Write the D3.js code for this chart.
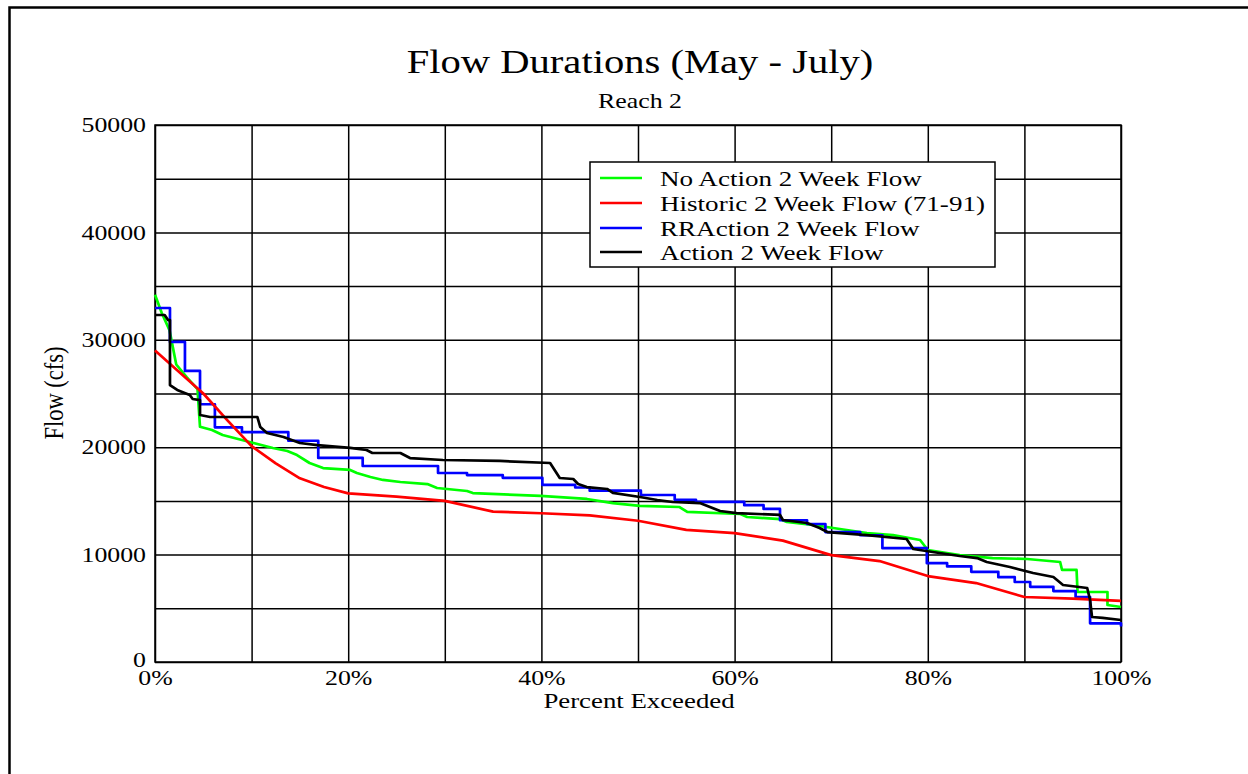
<!DOCTYPE html>
<html>
<head>
<meta charset="utf-8">
<script src="https://cdn.jsdelivr.net/npm/d3@7/dist/d3.min.js"></script>
<style>
  html, body { margin: 0; padding: 0; background: #fff; }
  svg { display: block; }
  text { font-family: "Liberation Serif", "Times New Roman", serif; fill: #000; }
</style>
</head>
<body>
<svg id="chart" width="1248" height="774"></svg>
<script>
// ---- Data (percent exceeded, flow in cfs) ----
const seriesNames = [
  "No Action 2 Week Flow",
  "Historic 2 Week Flow (71-91)",
  "RRAction 2 Week Flow",
  "Action 2 Week Flow"
];
const seriesColors = ["#00ff00", "#ff0000", "#0000ff", "#000000"];

const noActionFlow = [
  [0,34200],[0.7,32500],[1.5,30900],[2.2,27700],[3.3,26500],[4.4,25400],[4.66,21900],
  [5.9,21600],[7.0,21140],[9.8,20480],[12.2,19930],[13.7,19650],[14.7,19270],[16.0,18530],
  [17.4,18060],[20.2,17880],[20.9,17600],[22.3,17230],[23.6,16950],[25.4,16760],[28.2,16570],
  [29.2,16200],[32.3,15920],[32.9,15730],[39.9,15460],[44.7,15180],[47.4,14800],[50.2,14530],
  [54.3,14430],[55.1,13970],[60.6,13780],[61.3,13500],[64.7,13310],[65.4,13040],[68.1,12760],
  [70.2,12480],[73.7,12010],[76.4,11820],[79.2,11360],[80.0,10430],[83.3,9960],[86.7,9680],
  [90.3,9590],[93.7,9310],[93.9,8570],[95.4,8570],[95.5,6520],[98.6,6520],[98.6,5310],[100,5120]
];

const historicFlow = [
  [0,29000],[2.5,27000],[5,25000],[7.5,22500],[10,20100],[12.5,18500],[15,17100],[17.5,16300],
  [20,15700],[25,15400],[30,15000],[35,14000],[40,13850],[45,13650],[50,13150],[55,12300],
  [60,12000],[65,11300],[70,9950],[75,9400],[80,8000],[85,7350],[90,6050],[95,5900],[100,5700]
];

const rrActionFlow = [
  [0,32960],[1.55,29800],[3.1,27100],[4.66,24000],[6.2,21850],[9.0,21400],[13.8,20600],
  [16.9,19000],[21.5,18250],[29.3,17600],[32.3,17400],[36,17150],[40.1,16500],[43.5,16250],
  [45,15950],[50.3,15550],[53.8,15100],[56,14900],[61,14600],[63,14250],[64.7,13200],
  [67.5,12850],[69.4,12100],[73,11800],[75.3,10600],[79.9,9200],[82,8900],[84.5,8400],
  [87.3,7900],[89,7450],[90.6,7000],[93,6600],[95.3,6050],[96.8,3600],[100,3300]
];

const actionFlow = [
  [0,32310],[1.0,32310],[1.35,31840],[1.55,31840],[1.55,25790],[2.3,25330],[3.6,24860],
  [3.9,24490],[4.66,24390],[4.66,23000],[5.7,22810],[10.6,22810],[10.9,21880],[11.6,21320],
  [13.3,20950],[15.0,20390],[16.8,20200],[20.2,19930],[21.9,19740],[22.5,19460],[25.4,19460],
  [26.4,18990],[29.8,18810],[35.7,18720],[40.9,18530],[41.9,17130],[43.3,17040],[43.8,16570],
  [44.7,16290],[46.8,16110],[47.4,15740],[50.2,15360],[52.0,15080],[53.6,14900],[56.4,14800],
  [58.5,14060],[60.2,13870],[64.7,13690],[65.0,13220],[67.5,12940],[68.8,12480],[69.6,12100],
  [73.7,11820],[77.8,11450],[78.5,10520],[80.5,10240],[83.3,9870],[85.1,9680],[86.1,9310],
  [88.5,8850],[90.9,8290],[93.0,7910],[94.0,7170],[96.5,6890],[96.8,5770],[97.0,4190],
  [98.1,4100],[100,3910]
];

const xGridTicks = [0,10,20,30,40,50,60,70,80,90,100];
const xLabelTicks = [0,20,40,60,80,100];
const yGridTicks = [0,5000,10000,15000,20000,25000,30000,35000,40000,45000,50000];
const yLabelTicks = [0,10000,20000,30000,40000,50000];

// ---- Layout ----
const SX = 1.23; // horizontal text stretch of the original rendering
const svg = d3.select("#chart");
const L = 155, R = 1121, T = 125, B = 662;
const x = d3.scaleLinear().domain([0,100]).range([L,R]);
const y = d3.scaleLinear().domain([0,50000]).range([B,T]);

// outer frame (top & left visible, continues past the window)
svg.append("rect")
  .attr("x", 9.5).attr("y", 7.5).attr("width", 1300).attr("height", 900)
  .attr("fill", "none").attr("stroke", "#000").attr("stroke-width", 2.5);

function stretchedText(g, tx, ty, str, size, anchor, rotate) {
  return g.append("text")
    .attr("transform", `translate(${tx},${ty}) scale(${SX},1)` + (rotate ? ` rotate(${rotate})` : ""))
    .attr("text-anchor", anchor || "middle")
    .style("font-size", size + "px")
    .text(str);
}

// Gridlines via axes
const gridX = svg.append("g").attr("transform", `translate(0,${T})`)
  .call(d3.axisBottom(x).tickValues(xGridTicks).tickSize(B - T).tickFormat(""));
gridX.select(".domain").remove();
gridX.selectAll("line").attr("stroke", "#000").attr("stroke-width", 1.5);

const gridY = svg.append("g").attr("transform", `translate(${L},0)`)
  .call(d3.axisRight(y).tickValues(yGridTicks).tickSize(R - L).tickFormat(""));
gridY.select(".domain").remove();
gridY.selectAll("line").attr("stroke", "#000").attr("stroke-width", 1.5);

// plot border
svg.append("rect").attr("x", L).attr("y", T).attr("width", R - L).attr("height", B - T)
  .attr("fill", "none").attr("stroke", "#000").attr("stroke-width", 1.5);

// Tick labels via axes
const axX = svg.append("g").attr("transform", `translate(0,${B})`)
  .call(d3.axisBottom(x).tickValues(xLabelTicks).tickSize(0).tickPadding(8).tickFormat(d => d + "%"));
axX.select(".domain").remove();
axX.selectAll("text").style("font-size", "21px").attr("font-family", null)
  .attr("transform", `scale(${SX},1)`);

const axY = svg.append("g").attr("transform", `translate(${L},0)`)
  .call(d3.axisLeft(y).tickValues(yLabelTicks).tickSize(0).tickPadding(9).tickFormat(d3.format("d")));
axY.select(".domain").remove();
axY.selectAll("text").style("font-size", "21px").attr("font-family", null)
  .attr("x", -9 / SX).attr("transform", `scale(${SX},1)`);
// lift the "0" label slightly, as in the original
axY.selectAll("text").filter(d => d === 0).attr("dy", "0.2em");

// Titles
stretchedText(svg, 640, 73, "Flow Durations (May - July)", 33, "middle");
stretchedText(svg, 640, 108, "Reach 2", 21, "middle");
stretchedText(svg, 639, 708, "Percent Exceeded", 21.8, "middle");
stretchedText(svg, 63, 393, "Flow (cfs)", 22.5, "middle", -90);

// Series
const lineLin = d3.line().x(d => x(d[0])).y(d => y(d[1]));
const lineStep = d3.line().x(d => x(d[0])).y(d => y(d[1])).curve(d3.curveStepAfter);
const plotG = svg.append("g").attr("fill", "none").attr("stroke-width", 2.7)
  .attr("stroke-linejoin", "round");

plotG.append("path").datum(noActionFlow).attr("d", lineLin).attr("stroke", seriesColors[0]);
plotG.append("path").datum(rrActionFlow).attr("d", lineStep).attr("stroke", seriesColors[2]);
plotG.append("path").datum(historicFlow).attr("d", lineLin).attr("stroke", seriesColors[1]);
plotG.append("path").datum(actionFlow).attr("d", lineLin).attr("stroke", seriesColors[3]);

// Legend
const lg = svg.append("g");
lg.append("rect").attr("x", 590).attr("y", 162).attr("width", 405).attr("height", 105)
  .attr("fill", "#fff").attr("stroke", "#000").attr("stroke-width", 1.5);
const legY = [178, 203, 228, 252];
seriesNames.forEach((name, i) => {
  lg.append("line").attr("x1", 600).attr("x2", 642).attr("y1", legY[i]).attr("y2", legY[i])
    .attr("stroke", seriesColors[i]).attr("stroke-width", 2.6);
  stretchedText(lg, 660, legY[i] + 8, name, 22, "start");
});
</script>
</body>
</html>
